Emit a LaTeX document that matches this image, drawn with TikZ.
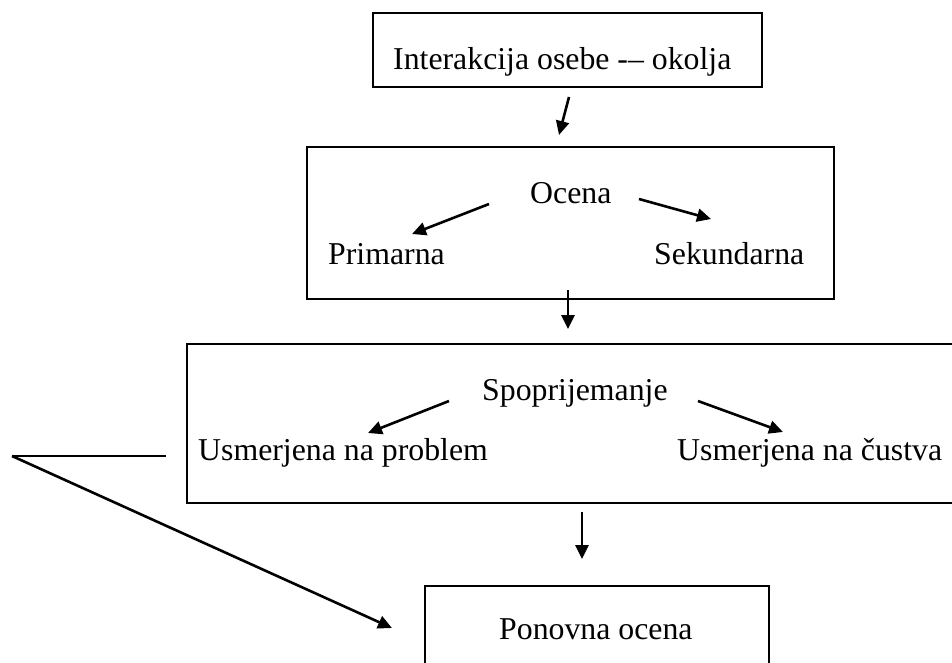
\documentclass[tikz,border=0pt]{standalone}
\usepackage{fontspec}
\setmainfont{Liberation Serif}
\usetikzlibrary{arrows.meta}
\begin{document}
\begin{tikzpicture}[x=1pt,y=-1pt,
  box/.style={draw=black, line width=2pt, rectangle, inner sep=0pt},
  lbl/.style={anchor=base west, inner sep=0pt, font=\fontsize{31.8}{36}\selectfont},
  arr/.style={line width=2.6pt, -{Triangle[length=14pt,width=13pt]}}]
\useasboundingbox (0,0) rectangle (952,662);
% boxes
\node[box, minimum width=389pt, minimum height=74pt] (b1) at (567.5,50) {};
\node[box, minimum width=527pt, minimum height=152pt] (b2) at (570.5,223) {};
\node[box, minimum width=780pt, minimum height=159pt] (b3) at (577,423.5) {};
\node[box, minimum width=344pt, minimum height=110pt] (b4) at (597,641) {};
% texts
\node[lbl] (t1) at (393,69) {Interakcija osebe -– okolja};
\node[lbl] (oc) at (530,203) {Ocena};
\node[lbl] (pr) at (328,264) {Primarna};
\node[lbl] (se) at (654,264) {Sekundarna};
\node[lbl] (sp) at (482,400) {Spoprijemanje};
\node[lbl] (up) at (198,460) {Usmerjena na problem};
\node[lbl] (uc) at (677,460) {Usmerjena na čustva};
\node[lbl] (po) at (499,639) {Ponovna ocena};
% arrow ends
\coordinate (a1s) at (569,97);  \coordinate (a1e) at (559,135);
\coordinate (a2s) at (489,204); \coordinate (a2e) at (412,234);
\coordinate (a3s) at (639,199); \coordinate (a3e) at (711,219);
\coordinate (a4s) at (568,290); \coordinate (a4e) at (568,329);
\coordinate (a5s) at (449,401); \coordinate (a5e) at (368,433);
\coordinate (a6s) at (698,401); \coordinate (a6e) at (783,432);
\coordinate (a7s) at (582,512); \coordinate (a7e) at (582,559);
\coordinate (hs) at (166,456);  \coordinate (hc) at (12,456);
\coordinate (de) at (392,628);
% arrows
\draw[arr] (a1s) -- (a1e);
\draw[arr] (a2s) -- (a2e);
\draw[arr] (a3s) -- (a3e);
\draw[arr] (a4s) -- (a4e);
\draw[arr] (a5s) -- (a5e);
\draw[arr] (a6s) -- (a6e);
\draw[arr] (a7s) -- (a7e);
\draw[line width=1.3pt] (hs) -- (hc);
\draw[arr] (hc) -- (de);
\end{tikzpicture}
\end{document}
